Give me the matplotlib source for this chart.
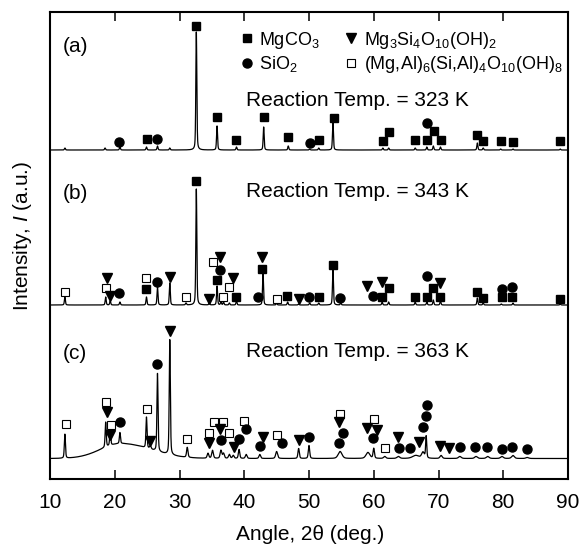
import numpy as np
import matplotlib
matplotlib.use("Agg")
import matplotlib.pyplot as plt
from matplotlib.lines import Line2D

plt.rcParams['font.family'] = ['Liberation Sans', 'DejaVu Sans']
plt.rcParams['mathtext.fontset'] = 'custom'
plt.rcParams['mathtext.rm'] = 'Liberation Sans'
plt.rcParams['mathtext.it'] = 'Liberation Sans:italic'
plt.rcParams['mathtext.default'] = 'regular'

# ---------------- diffraction peaks: 2-theta (deg), height above background
a_pos = [12.3, 18.5, 20.8, 24.9, 26.6, 28.5, 32.6, 35.8, 38.8, 43.0, 46.8, 50.1,
         51.5, 53.7, 61.4, 62.3, 66.4, 68.2, 69.2, 70.3, 76.0, 76.9, 79.6, 81.5, 88.8]
a_height = [2, 2, 3, 3, 4, 2, 118, 24, 3, 23, 4, 1,
            2, 28, 2, 2, 2, 3, 4, 3, 7, 2, 1, 1, 1]

b_pos = [12.3, 18.6, 19.3, 20.8, 24.9, 26.6, 28.5, 31.0, 32.6, 34.6, 35.8, 36.4,
         36.8, 37.7, 38.8, 42.9, 45.0, 46.7, 48.4, 50.1, 51.5, 53.7, 54.9, 61.3,
         62.3, 66.4, 68.2, 69.2, 70.3, 76.0, 76.9, 79.7, 81.5, 88.8]
b_height = [8, 8, 4, 3, 8, 18, 22, 2, 116, 2, 19, 3,
            3, 2, 4, 32, 2, 3, 1, 2, 2, 36, 2, 3,
            3, 3, 3, 5, 4, 7, 2, 1, 2, 1]

c_pos = [12.3, 18.6, 19.3, 20.8, 24.9, 25.5, 26.6, 28.5, 31.2, 34.4, 35.1, 36.4,
         36.8, 37.7, 38.3, 39.2, 40.3, 42.4, 45.0, 48.4, 50.0, 54.8, 59.1, 60.0,
         61.7, 63.8, 66.5, 67.6, 68.1, 70.4, 73.3, 75.8, 77.6, 79.8, 81.5, 83.7]
c_height = [24, 25, 15, 11, 31, 3, 78, 115, 10, 5, 8, 8,
            5, 4, 3, 9, 4, 4, 7, 10, 13, 7, 6, 10,
            2, 2, 3, 6, 22, 3, 2, 2, 2, 2, 3, 1]
c_width = [0.2, 0.2, 0.2, 0.2, 0.2, 0.3, 0.2, 0.2, 0.25, 0.3, 0.3, 0.3,
           0.3, 0.3, 0.3, 0.25, 0.3, 0.3, 0.35, 0.25, 0.25, 0.7, 0.7, 0.25,
           0.4, 0.5, 1.2, 0.5, 0.2, 0.4, 0.5, 0.5, 0.5, 0.5, 0.5, 0.5]

# amorphous halo of pattern (c): centre, height, left / right spread (deg)
c_halo = (21.0, 15.0, 3.2, 4.5)

# vertical offsets of the stacked patterns
offsets = {'a': 329, 'b': 174, 'c': 20.5}

# ---------------- phase markers (2-theta, y on the stacked intensity scale)
a_mgco3_x = [25.0, 32.6, 35.8, 38.8, 43.0, 46.8, 51.5, 53.8, 61.4, 62.4, 66.4, 68.2,
             69.3, 70.4, 76.0, 76.9, 79.7, 81.5, 88.8]
a_mgco3_y = [340, 453, 362, 339, 362, 342, 339, 361, 338, 347, 339, 339,
             348, 339, 344, 338, 338, 337, 338]
a_sio2_x = [20.7, 26.6, 50.1, 68.2]
a_sio2_y = [337, 340, 336, 356]

b_chl_x = [12.3, 18.6, 24.9, 31.0, 35.1, 36.7, 37.7, 45.0]
b_chl_y = [187, 191, 201, 182, 217, 182, 192, 180]
b_talc_x = [18.8, 19.3, 28.5, 34.6, 36.3, 38.3, 42.8, 48.4, 59.0, 61.3, 70.3]
b_talc_y = [201, 183, 202, 180, 222, 201, 222, 180, 193, 197, 196]
b_mgco3_x = [24.9, 32.6, 35.8, 38.8, 42.8, 46.6, 51.5, 53.7, 61.3, 62.4, 66.4, 68.2,
             69.2, 70.3, 75.9, 76.9, 79.8, 81.4, 88.8]
b_mgco3_y = [190, 298, 199, 182, 210, 183, 182, 214, 182, 191, 182, 182,
             191, 182, 187, 181, 182, 182, 180]
b_sio2_x = [20.7, 26.5, 36.3, 42.2, 50.0, 54.8, 59.9, 68.2, 79.8, 81.4]
b_sio2_y = [186, 197, 209, 182, 182, 181, 183, 203, 190, 192]

c_chl_x = [12.4, 18.6, 19.4, 25.0, 31.2, 34.6, 35.3, 36.7, 37.6, 39.9, 45.0, 54.8,
           60.0, 61.7]
c_chl_y = [55, 77, 54, 70, 40, 46, 57, 57, 46, 58, 44, 65, 60, 31]
c_talc_x = [18.8, 19.2, 25.4, 28.5, 34.5, 36.3, 38.4, 42.9, 48.4, 54.6, 59.0, 60.5,
            63.8, 67.0, 70.3, 71.6]
c_talc_y = [67, 44, 38, 148, 36, 50, 32, 42, 39, 57, 51, 49, 42, 37, 33, 31]
c_sio2_x = [20.8, 26.5, 36.4, 39.2, 40.3, 42.4, 45.8, 50.0, 54.6, 55.3, 59.9, 63.9,
            65.6, 67.6, 68.1, 68.3, 73.3, 75.6, 77.5, 79.8, 81.4, 83.7]
c_sio2_y = [57, 115, 39, 40, 50, 33, 36, 42, 36, 46, 41, 31,
            31, 52, 63, 74, 32, 32, 32, 30, 32, 30]

panel_labels = ['(a)', '(b)', '(c)']
temps = [323, 343, 363]

phase_labels = ['MgCO$_3$', 'SiO$_2$', 'Mg$_3$Si$_4$O$_{10}$(OH)$_2$',
                '(Mg,Al)$_6$(Si,Al)$_4$O$_{10}$(OH)$_8$']

# ---------------- build the traces
two_theta = np.linspace(10, 90, 8001)


def pseudo_voigt(x, x0, h, w, eta=0.4):
    d = (x - x0) / w
    lor = 1.0 / (1.0 + 4.0 * d ** 2)
    gau = np.exp(-4.0 * np.log(2) * d ** 2)
    return h * (eta * lor + (1 - eta) * gau)


def trace(pos, height, width, base):
    y = np.full_like(two_theta, base, dtype=float)
    for p, h, w in zip(pos, height, width):
        y += pseudo_voigt(two_theta, p, h, w)
    return y


def halo(x, centre, h, sl, sr):
    s = np.where(x < centre, sl, sr)
    return h * np.exp(-(x - centre) ** 2 / (2 * s ** 2))


ya = trace(a_pos, a_height, [0.18] * len(a_pos), offsets['a'])
yb = trace(b_pos, b_height, [0.18] * len(b_pos), offsets['b'])
yc = trace(c_pos, c_height, c_width, offsets['c']) + halo(two_theta, *c_halo)

# ---------------- figure
fig = plt.figure(figsize=(5.81, 5.47), dpi=100)
ax = fig.add_axes([50 / 581, 68 / 547, 518 / 581, 467 / 547])

for y in (ya, yb, yc):
    ax.plot(two_theta, y, color='black', lw=0.9, zorder=2)

mk_sq = dict(ls='none', marker='s', ms=5.4, color='black', zorder=3)
mk_ci = dict(ls='none', marker='o', ms=6.5, color='black', zorder=3)
mk_tr = dict(ls='none', marker='v', ms=6.8, color='black', zorder=3)
mk_os = dict(ls='none', marker='s', ms=5.2, mfc='white', mec='black', mew=0.8, zorder=3)

ax.plot(a_mgco3_x, a_mgco3_y, **mk_sq)
ax.plot(a_sio2_x, a_sio2_y, **mk_ci)

ax.plot(b_chl_x, b_chl_y, **mk_os)
ax.plot(b_talc_x, b_talc_y, **mk_tr)
ax.plot(b_mgco3_x, b_mgco3_y, **mk_sq)
ax.plot(b_sio2_x, b_sio2_y, **mk_ci)

ax.plot(c_chl_x, c_chl_y, **mk_os)
ax.plot(c_talc_x, c_talc_y, **mk_tr)
ax.plot(c_sio2_x, c_sio2_y, **mk_ci)

# panel letters and reaction temperatures
label_y = [427, 280, 120]
temp_y = [373, 282, 122]
for lab, ly, t, ty in zip(panel_labels, label_y, temps, temp_y):
    ax.text(12.0, ly, lab, fontsize=15, ha='left', va='baseline')
    ax.text(40.3, ty, f'Reaction Temp. = {t} K', fontsize=15, ha='left', va='baseline')

handles = [Line2D([], [], **mk_sq), Line2D([], [], **mk_ci),
           Line2D([], [], **mk_tr), Line2D([], [], **mk_os)]
ax.legend(handles, phase_labels, ncol=2, loc='upper left',
          bbox_to_anchor=(0.369, 0.962), frameon=False, fontsize=13,
          handlelength=0.6, handletextpad=0.4, columnspacing=1.45,
          labelspacing=0.2, borderpad=0, borderaxespad=0)

ax.set_xlim(10, 90)
ax.set_ylim(0, 467)
ax.set_xticks(range(10, 91, 10))
ax.set_yticks([])
ax.tick_params(axis='x', direction='in', top=True, length=6.5, width=1.1,
               labelsize=15, pad=10)
for sp in ax.spines.values():
    sp.set_linewidth(1.5)

fig.text(310 / 581, 1 - 534 / 547, 'Angle, 2θ (deg.)', fontsize=15,
         ha='center', va='center')
fig.text(23 / 581, 1 - 236 / 547, 'Intensity, $\\mathit{I}$ (a.u.)', fontsize=15,
         ha='center', va='center', rotation=90)

fig.savefig('out.png', dpi=100)
